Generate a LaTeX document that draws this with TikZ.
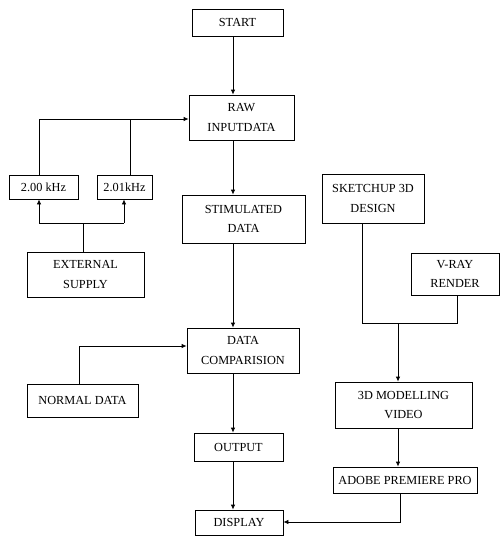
\documentclass[tikz,border=0pt]{standalone}
\usepackage{fontspec}
\setmainfont{Liberation Serif}
\usetikzlibrary{arrows.meta}
\begin{document}
\begin{tikzpicture}[x=1pt,y=-1pt,
  box/.style={draw,line width=0.8pt,inner sep=0pt,align=center,
    font=\fontsize{12.3pt}{19.5pt}\selectfont},
  arr/.style={line width=0.8pt,-{Latex[length=5pt,width=4.5pt]}},
  ln/.style={line width=0.8pt}]
\useasboundingbox (0,0) rectangle (500,536);
% nodes
\node[box,minimum width=91pt,minimum height=27pt] (start) at (237.5,22.5) {START};
\node[box,minimum width=105pt,minimum height=45pt] (raw) at (241.5,117.5) {RAW\\INPUTDATA};
\node[box,minimum width=69pt,minimum height=24pt] (f200) at (43.5,187) {2.00 kHz};
\node[box,minimum width=55pt,minimum height=24pt] (f201) at (124.5,187) {2.01kHz};
\node[box,minimum width=117pt,minimum height=45pt] (ext) at (85.5,274.5) {EXTERNAL\\SUPPLY};
\node[box,minimum width=123pt,minimum height=48pt] (stim) at (243.5,219) {STIMULATED\\DATA};
\node[box,minimum width=112pt,minimum height=45pt] (comp) at (243,350.5) {DATA\\COMPARISION};
\node[box,minimum width=111pt,minimum height=33pt] (normal) at (82.5,400.5) {NORMAL DATA};
\node[box,minimum width=89pt,minimum height=28pt] (output) at (238.5,447) {OUTPUT};
\node[box,minimum width=88pt,minimum height=25pt] (display) at (239,522.5) {DISPLAY};
\node[box,minimum width=102pt,minimum height=49pt] (sketch) at (373,198.5) {SKETCHUP 3D\\DESIGN};
\node[box,minimum width=88pt,minimum height=42pt] (vray) at (455,274) {V-RAY\\RENDER};
\node[box,minimum width=137pt,minimum height=46pt] (model) at (403.5,405) {3D MODELLING\\VIDEO};
\node[box,minimum width=144pt,minimum height=26pt] (adobe) at (405,480) {ADOBE PREMIERE PRO};
% coordinates
\coordinate (cx) at (233,0);
\coordinate (j1) at (39,119);
\coordinate (j2) at (130,119);
\coordinate (e0) at (83,223);
\coordinate (e1) at (39,223);
\coordinate (e2) at (124,223);
\coordinate (n1) at (79,346);
\coordinate (s1) at (362,323);
\coordinate (s2) at (457,323);
\coordinate (s0) at (398,323);
\coordinate (a1) at (400,522);
% connectors
\draw[arr] (start.south -| cx) -- (raw.north -| cx);
\draw[arr] (raw.south -| cx) -- (stim.north -| cx);
\draw[arr] (stim.south -| cx) -- (comp.north -| cx);
\draw[arr] (comp.south -| cx) -- (output.north -| cx);
\draw[arr] (output.south -| cx) -- (display.north -| cx);
\draw[arr] (f200.north -| j1) -- (j1) -- (raw.west |- j1);
\draw[ln] (f201.north -| j2) -- (j2);
\draw[ln] (ext.north -| e0) -- (e0);
\draw[ln] (e1) -- (e2);
\draw[arr] (e1) -- (f200.south -| e1);
\draw[arr] (e2) -- (f201.south -| e2);
\draw[arr] (normal.north -| n1) -- (n1) -- (comp.west |- n1);
\draw[ln] (sketch.south -| s1) -- (s1) -- (s2) -- (vray.south -| s2);
\draw[arr] (s0) -- (model.north -| s0);
\draw[arr] (model.south -| s0) -- (adobe.north -| s0);
\draw[arr] (adobe.south -| a1) -- (a1) -- (display.east |- a1);
\end{tikzpicture}
\end{document}
